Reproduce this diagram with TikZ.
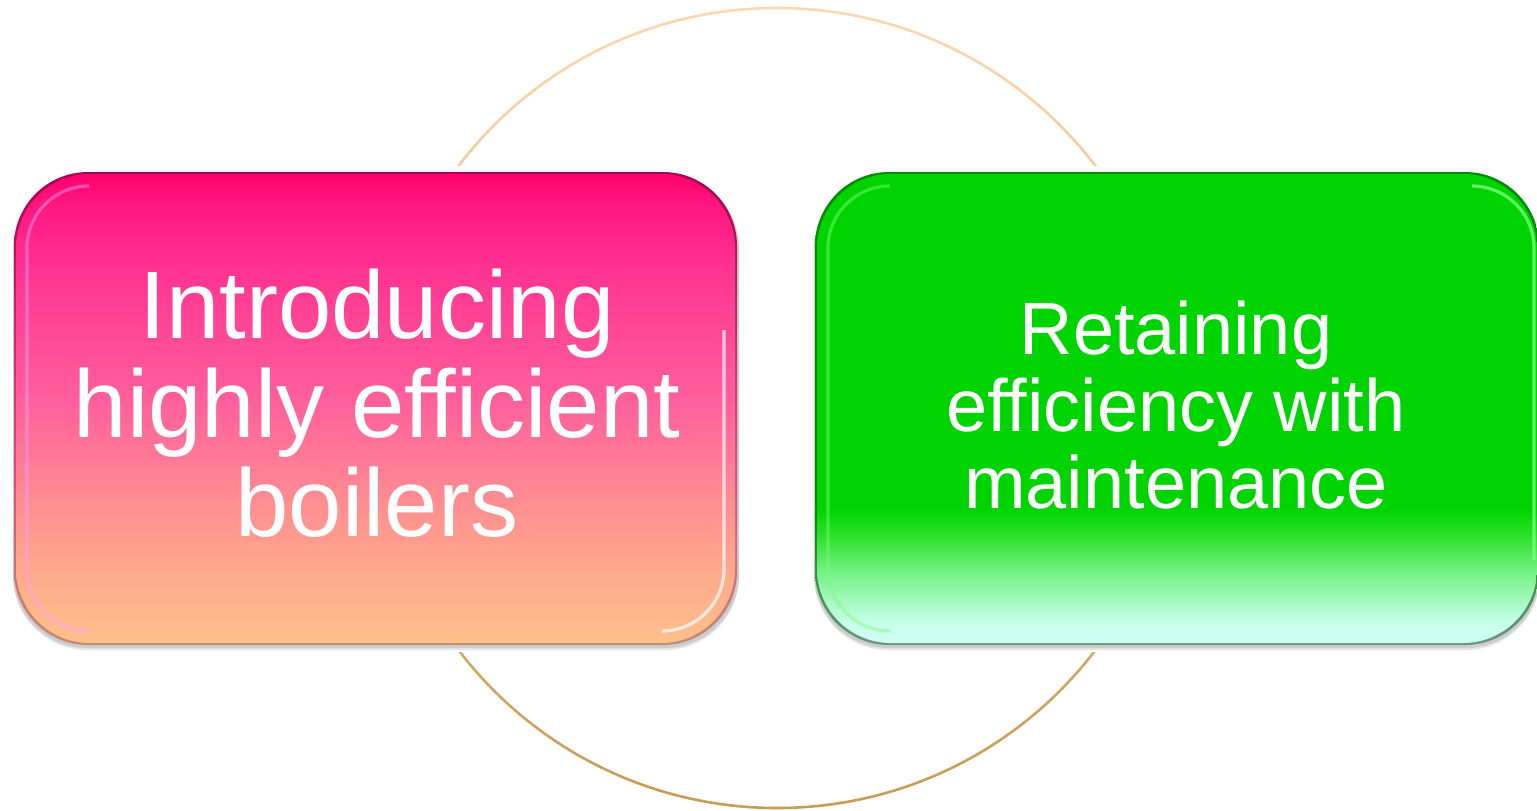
\documentclass[tikz,border=0pt]{standalone}
\usepackage{fontspec}
\setmainfont{Liberation Sans}

% ring colours
\definecolor{ringtop}{RGB}{252,216,178}
\definecolor{ringbot}{RGB}{198,156,86}

% pink box colours
\definecolor{pkA}{RGB}{255,0,110}
\definecolor{pkB}{RGB}{255,22,126}
\definecolor{pkC}{RGB}{255,52,146}
\definecolor{pkD}{RGB}{255,95,156}
\definecolor{pkE}{RGB}{255,140,146}
\definecolor{pkF}{RGB}{255,164,140}
\definecolor{pkG}{RGB}{252,192,140}
\definecolor{pkEdgeT}{RGB}{170,0,80}
\definecolor{pkEdgeB}{RGB}{196,140,112}
\definecolor{pkGloss}{RGB}{255,160,255}

% green box colours
\definecolor{gnA}{RGB}{0,212,0}
\definecolor{gnB}{RGB}{50,226,50}
\definecolor{gnC}{RGB}{110,240,125}
\definecolor{gnD}{RGB}{160,248,185}
\definecolor{gnE}{RGB}{200,255,235}
\definecolor{gnF}{RGB}{206,255,246}
\definecolor{gnEdgeT}{RGB}{0,140,0}
\definecolor{gnEdgeB}{RGB}{110,150,130}
\definecolor{gnGloss}{RGB}{120,255,120}

\pgfdeclareverticalshading{pinkfill}{100bp}{%
  color(0bp)=(pkG); color(25bp)=(pkG); color(34bp)=(pkF); color(40.3bp)=(pkE);
  color(50.9bp)=(pkD); color(64.6bp)=(pkC); color(72bp)=(pkB); color(75bp)=(pkA);
  color(100bp)=(pkA)}
\pgfdeclareverticalshading{pinkedge}{100bp}{%
  color(0bp)=(pkEdgeB); color(25bp)=(pkEdgeB); color(50bp)=(pkD!60!pkEdgeT);
  color(75bp)=(pkEdgeT); color(100bp)=(pkEdgeT)}
\pgfdeclareverticalshading{greenfill}{100bp}{%
  color(0bp)=(gnF); color(25bp)=(gnF); color(27.1bp)=(gnE); color(29.8bp)=(gnD);
  color(33bp)=(gnC); color(36.1bp)=(gnB); color(39.3bp)=(gnA); color(75bp)=(gnA);
  color(100bp)=(gnA)}
\pgfdeclareverticalshading{greenedge}{100bp}{%
  color(0bp)=(gnEdgeB); color(25bp)=(gnEdgeB); color(40bp)=(gnEdgeT);
  color(75bp)=(gnEdgeT); color(100bp)=(gnEdgeT)}

\tikzset{
  boxcorner/.style={rounded corners=37pt},
  halo/.style={fill=white, rounded corners=40pt},
  dropshade/.style={fill=black, opacity=0.10, rounded corners=37pt},
  gloss/.style={opacity=0.45, line width=1.6pt, rounded corners=31pt},
  boxtext/.style={text=white, align=center, inner sep=0pt},
}

\begin{document}
\begin{tikzpicture}[x=0.5pt,y=-0.5pt]
\useasboundingbox (0,0) rectangle (1537,810);

% thin ring behind the two boxes
\coordinate (ring) at (777,408);
\shade[top color=ringtop, bottom color=ringbot, even odd rule]
  (ring) circle[radius=401.3] (ring) circle[radius=398.7];

% white halos that break the ring next to each box
\fill[halo] (8,166) rectangle (744,652);
\fill[halo] (809,166) rectangle (1545,652);

% ---- left box ----
\fill[dropshade] (13,176) rectangle (739,650);
\fill[dropshade] (13,174) rectangle (739,648);
\shade[boxcorner, shading=pinkedge] (14,172) rectangle (737,645);
\shade[boxcorner, shading=pinkfill] (16,174) rectangle (735,643);
% bevel highlights: left side and lower right
\draw[gloss, draw=pkGloss] (89,186) -- (27,186) -- (27,631) -- (89,631);
\draw[gloss, draw=white, opacity=0.7] (724,330) -- (724,631) -- (662,631);

% ---- right box ----
\fill[dropshade] (814,176) rectangle (1540,650);
\fill[dropshade] (814,174) rectangle (1540,648);
\shade[boxcorner, shading=greenedge] (815,172) rectangle (1539,645);
\shade[boxcorner, shading=greenfill] (817,174) rectangle (1537,643);
% bevel highlights: left side and right edge
\draw[gloss, draw=gnGloss] (890,186) -- (828,186) -- (828,631) -- (890,631);
\draw[gloss, draw=gnGloss, opacity=0.8] (1472,186) -- (1534,186) -- (1534,560);

% ---- labels ----
\node[boxtext, font=\fontsize{48}{49.5}\selectfont] (intro) at (377,403.5)
  {Introducing\\highly efficient\\boilers};
\node[boxtext, font=\fontsize{37}{38.5}\selectfont] (retain) at (1176,405)
  {Retaining\\efficiency with\\maintenance};
\end{tikzpicture}
\end{document}
